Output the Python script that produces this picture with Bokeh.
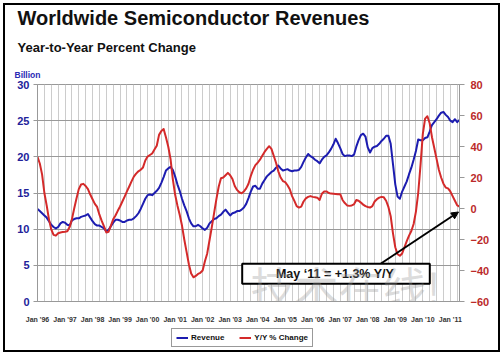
from bokeh.plotting import figure
from bokeh.layouts import column
from bokeh.models import (Range1d, LinearAxis, FixedTicker, Label, BoxAnnotation, Arrow,
                          NormalHead, Title, Legend, LegendItem)
from bokeh.embed import file_html
from bokeh.resources import INLINE

# ---------------- data (monthly, Jan '96 .. May '11) ----------------
revenue = [
    12.8, 12.5, 12.2, 11.9, 11.6, 11.1, 10.6, 10.3, 10.1, 10.3, 10.8, 11.0,   # 1996
    10.9, 10.6, 10.5, 11.2, 11.4, 11.5, 11.5, 11.7, 11.8, 11.9, 12.1, 11.6,   # 1997
    11.1, 10.7, 10.5, 10.5, 10.3, 10.1, 9.7, 9.9, 10.4, 10.9, 11.3, 11.3,     # 1998
    11.2, 11.0, 11.0, 11.2, 11.3, 11.3, 11.5, 11.8, 12.2, 12.8, 13.5, 14.2,   # 1999
    14.7, 14.8, 14.7, 15.0, 15.3, 15.7, 16.4, 17.2, 18.1, 18.4, 18.6, 18.2,   # 2000
    17.3, 16.2, 15.3, 14.2, 13.3, 12.5, 11.5, 10.8, 10.4, 10.4, 10.6, 10.4,   # 2001
    10.1, 9.9, 10.2, 10.8, 11.1, 11.4, 11.5, 11.8, 12.0, 12.4, 12.7, 12.3,    # 2002
    11.9, 12.2, 12.3, 12.5, 12.5, 12.7, 13.0, 13.5, 14.3, 15.2, 15.9, 16.0,   # 2003
    15.6, 15.6, 16.3, 16.8, 17.3, 17.6, 17.9, 18.1, 18.5, 18.8, 18.4, 18.1,   # 2004
    18.2, 18.3, 18.1, 18.0, 18.1, 18.1, 18.2, 18.6, 19.3, 19.9, 20.4, 20.1,   # 2005
    19.9, 19.6, 19.4, 19.1, 19.6, 20.0, 20.2, 20.6, 21.1, 21.7, 22.5, 21.9,   # 2006
    21.2, 20.4, 20.1, 20.2, 20.2, 20.1, 20.3, 21.4, 22.3, 23.0, 23.2, 22.8,   # 2007
    21.3, 20.6, 21.2, 21.4, 21.5, 21.8, 22.2, 22.5, 22.9, 22.9, 21.8, 19.0,   # 2008
    16.2, 14.5, 14.2, 15.2, 15.9, 16.6, 17.6, 18.5, 19.6, 20.8, 22.4, 22.3,   # 2009
    22.3, 22.6, 22.7, 23.5, 24.4, 24.8, 25.2, 25.7, 26.1, 26.2, 25.8, 25.5,   # 2010
    25.0, 24.8, 25.2, 24.8, 25.1,                                             # 2011
]
yoy_change = [
    33.4, 29.0, 22.0, 10.0, 2.0, -7.0, -13.5, -17.0, -17.5, -16.0, -15.5, -15.2,  # 1996
    -15.0, -14.7, -12.0, -7.0, 0.0, 6.5, 12.5, 15.5, 15.9, 14.5, 12.5, 9.0,      # 1997
    6.0, 3.0, 1.0, -4.0, -8.0, -11.5, -15.5, -15.0, -11.0, -7.0, -4.5, -1.5,     # 1998
    1.3, 4.5, 7.7, 11.0, 14.2, 17.5, 20.6, 22.5, 24.0, 25.0, 26.5, 31.0,         # 1999
    33.5, 34.5, 35.5, 38.0, 40.5, 47.5, 50.0, 51.3, 46.0, 40.0, 32.0, 19.0,      # 2000
    9.0, 2.0, -4.0, -11.0, -20.0, -28.0, -36.0, -42.0, -44.4, -43.5, -42.2, -41.5,  # 2001
    -40.0, -34.0, -29.0, -20.5, -12.0, -3.0, 6.0, 14.0, 19.5, 20.0, 21.5, 23.0,  # 2002
    21.5, 19.0, 14.5, 12.0, 10.5, 9.8, 11.0, 13.0, 16.0, 21.0, 25.0, 28.0,       # 2003
    29.5, 31.5, 34.0, 36.5, 38.5, 40.2, 38.5, 34.0, 29.5, 24.0, 20.0, 17.7,      # 2004
    17.0, 15.0, 12.4, 8.0, 4.9, 1.5, 0.6, 1.2, 4.5, 6.5, 7.5, 8.0,               # 2005
    7.5, 7.3, 7.0, 5.5, 9.5, 11.0, 11.0, 10.0, 9.6, 9.5, 9.4, 9.2,               # 2006
    9.2, 5.5, 3.5, 2.0, 1.7, 2.0, 2.7, 5.5, 5.0, 3.8, 2.5, 1.5,                  # 2007
    1.0, 0.6, 1.5, 4.5, 6.0, 7.0, 7.5, 7.2, 5.0, 1.0, -5.0, -16.0,               # 2008
    -25.0, -29.5, -30.5, -29.0, -25.0, -21.0, -17.5, -14.5, -10.0, -2.0, 10.0, 28.0,  # 2009
    48.0, 58.0, 59.5, 55.0, 46.0, 39.0, 32.0, 25.0, 20.0, 16.0, 13.5, 13.0,      # 2010
    11.0, 8.0, 5.0, 2.0, 1.3,                                                    # 2011
]
months = list(range(len(revenue)))
year_ticks = [0, 12, 24, 36, 48, 60, 72, 84, 96, 108, 120, 132, 144, 156, 168, 180]
year_labels = ["Jan '96", "Jan '97", "Jan '98", "Jan '99", "Jan '00", "Jan '01",
               "Jan '02", "Jan '03", "Jan '04", "Jan '05", "Jan '06", "Jan '07",
               "Jan '08", "Jan '09", "Jan '10", "Jan '11"]
left_ticks = [0, 5, 10, 15, 20, 25, 30]
right_ticks = [-60, -40, -20, 0, 20, 40, 60, 80]
quarter_ticks = list(range(0, 185, 3))

title_text = "Worldwide Semiconductor Revenues"
subtitle_text = "Year-to-Year Percent Change"
unit_text = "Billion"
callout_text = "May \u201811 = +1.3% Y/Y"
series_names = ["Revenue", "Y/Y % Change"]

# ---------------- layout (page pixels) ----------------
W = 503
H_CHART, H_LEGEND = 325, 30
FL, FR, FT, FB = 37, 459, 84, 301
X_MAX = 184


def dx(px):
    return (px - FL) / (FR - FL) * X_MAX


def dy(py):
    return (FB - py) / (FB - FT) * 30


FONT = "Liberation Sans"
BLUE = "#1c1cb0"
RED = "#d42a2a"

p = figure(width=W, height=H_CHART, output_backend="svg", toolbar_location=None,
           x_range=Range1d(0, X_MAX), y_range=Range1d(0, 30),
           min_border_left=FL, min_border_right=W - FR,
           min_border_top=FT, min_border_bottom=H_CHART - FB,
           background_fill_color="white", border_fill_color=None,
           outline_line_color="#999999")
p.extra_y_ranges = {"pct": Range1d(-60, 80)}

# grids
p.xgrid.ticker = FixedTicker(ticks=quarter_ticks)
p.xgrid.grid_line_color = "#cccccc"
p.ygrid.ticker = FixedTicker(ticks=left_ticks)
p.ygrid.grid_line_color = "#999999"

# x axis
xa = p.xaxis[0]
xa.ticker = FixedTicker(ticks=year_ticks)
xa.major_label_overrides = {t: l for t, l in zip(year_ticks, year_labels)}
xa.major_tick_line_color = None
xa.minor_tick_line_color = None
xa.axis_line_color = "#999999"
xa.major_label_text_font = FONT
xa.major_label_text_font_size = "7px"
xa.major_label_text_font_style = "bold"
xa.major_label_text_color = "#333333"
xa.major_label_standoff = 8

# left axis
ya = p.yaxis[0]
ya.ticker = FixedTicker(ticks=left_ticks)
ya.axis_line_color = "#999999"
ya.major_tick_line_color = "#999999"
ya.major_tick_out = 4
ya.major_tick_in = 0
ya.minor_tick_line_color = None
ya.major_label_text_font = FONT
ya.major_label_text_font_size = "11px"
ya.major_label_text_font_style = "bold"
ya.major_label_text_color = "#22229a"
ya.major_label_standoff = 4

# right axis
ra = LinearAxis(y_range_name="pct", ticker=FixedTicker(ticks=right_ticks))
ra.axis_line_color = "#999999"
ra.major_tick_line_color = "#999999"
ra.major_tick_out = 5
ra.major_tick_in = 0
ra.minor_tick_line_color = None
ra.major_label_text_font = FONT
ra.major_label_text_font_size = "11px"
ra.major_label_text_font_style = "bold"
ra.major_label_text_color = "#bb2a2a"
ra.major_label_standoff = 6
p.add_layout(ra, "right")

# series
p.line(months, revenue, line_color=BLUE, line_width=2, line_join="round")
p.line(months, yoy_change, y_range_name="pct", line_color=RED, line_width=2, line_join="round")

# titles (stacked outward from the plot frame)
p.add_layout(Title(text=unit_text, align="left", offset=14 - FL, standoff=9,
                   text_font=FONT, text_font_size="8.5px", text_font_style="bold",
                   text_color="#2a2ab5"), "above")
p.add_layout(Title(text=subtitle_text, align="left", offset=17 - FL, standoff=18,
                   text_font=FONT, text_font_size="13px", text_font_style="bold",
                   text_color="#111111"), "above")
p.add_layout(Title(text=title_text, align="left", offset=17 - FL, standoff=0,
                   text_font=FONT, text_font_size="20px", text_font_style="bold",
                   text_color="#111111"), "above")

# callout
p.add_layout(Arrow(end=NormalHead(size=7, fill_color="black", line_color="black"),
                   x_start=dx(380.5), y_start=dy(263), x_end=dx(458), y_end=dy(211.5),
                   line_color="black", line_width=2))
p.add_layout(BoxAnnotation(left=dx(241.7), right=dx(429.3), top=dy(263.3), bottom=dy(283.3),
                           fill_color="white", fill_alpha=1, line_color="black",
                           line_alpha=1, line_width=2))
p.add_layout(Label(x=dx(334.5), y=dy(273.5), text=callout_text, text_font=FONT,
                   text_font_size="12.5px", text_font_style="bold", text_color="#111111",
                   text_align="center", text_baseline="middle"))

# watermark
p.add_layout(Label(x=dx(250), y=dy(285), text="技术在线!", text_font="Noto Sans CJK SC",
                   text_font_size="44px", text_color="#9a9a9a", text_alpha=0.35,
                   text_baseline="middle"))

# ---------------- legend strip below the chart ----------------
# legend swatches come from the same two series, kept out of view in this strip
q = figure(width=W, height=H_LEGEND, output_backend="svg", toolbar_location=None,
           x_range=Range1d(-20, -10), y_range=Range1d(0, 30),
           x_axis_location=None, y_axis_location=None,
           min_border_left=0, min_border_right=0, min_border_top=0, min_border_bottom=0,
           background_fill_color=None, border_fill_color=None, outline_line_color=None)
q.xgrid.visible = False
q.ygrid.visible = False
k_rev = q.line(months, revenue, line_color=BLUE, line_width=2)
k_yoy = q.line(months, yoy_change, line_color=RED, line_width=2)
legend = Legend(items=[LegendItem(label=series_names[0], renderers=[k_rev]),
                       LegendItem(label=series_names[1], renderers=[k_yoy])],
                orientation="horizontal", location=(171 - FL, 8), margin=0,
                padding=4, spacing=15, label_standoff=3, glyph_width=12, glyph_height=9,
                label_height=9, label_text_font=FONT, label_text_font_size="8px",
                label_text_font_style="bold", label_text_color="#111111",
                border_line_color="#999999", border_line_width=1, border_line_alpha=1,
                background_fill_color="white", background_fill_alpha=1)
q.add_layout(legend)

page = column(p, q, spacing=0,
              styles={"background-color": "white",
                      "box-shadow": "inset 0 0 0 3px white, inset 0 0 0 5px black"})

open("out.html", "w").write(file_html(page, INLINE))
